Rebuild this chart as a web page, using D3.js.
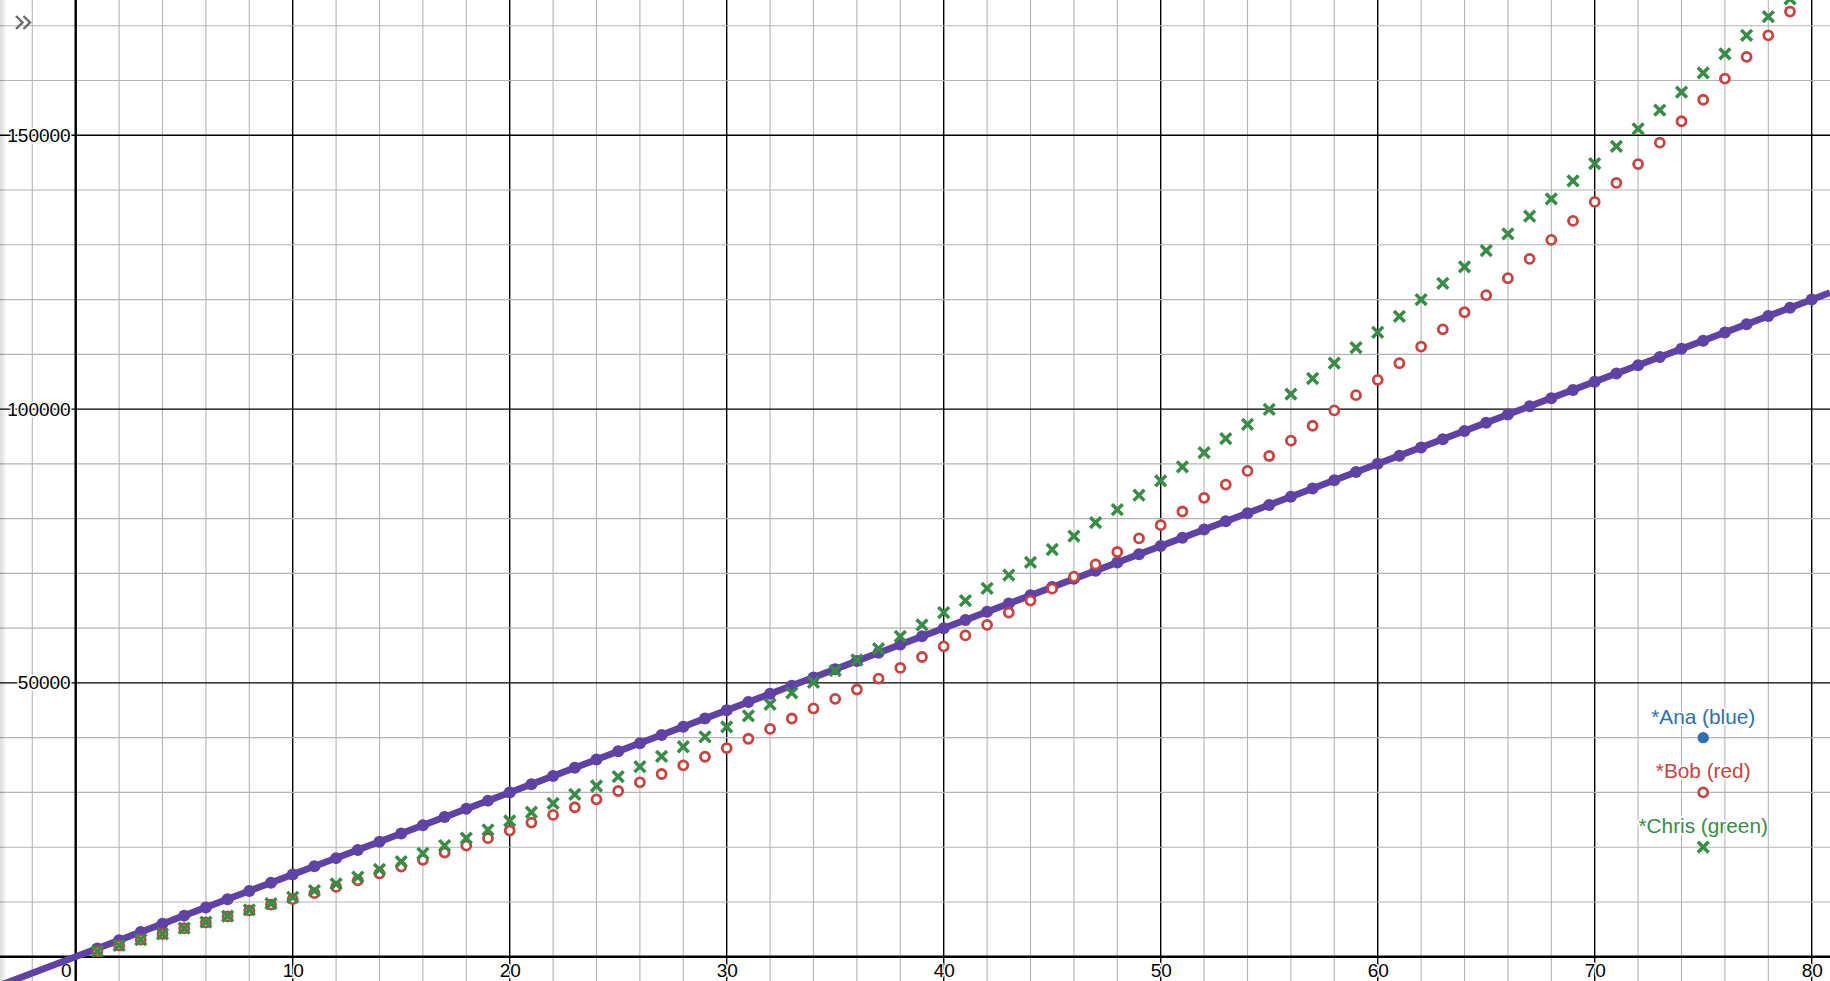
<!DOCTYPE html>
<html lang="en">
<head>
    <meta charset="utf-8">
    <title>Ana / Bob / Chris</title>
    <script type="text/javascript" src="https://cdn.jsdelivr.net/npm/d3@7/dist/d3.min.js"></script>
    <style>
        body { margin: 0; background: #fff; overflow: hidden; }
        svg { display: block; font-family: "Liberation Sans", Arial, sans-serif; }
    </style>
</head>
<body>
<script type="text/javascript">
    // values (n = 1, 2, 3 ...)
    var days = d3.range(1, 81);
    var ana = [
        1500, 3000, 4500, 6000, 7500, 9000, 10500, 12000, 13500, 15000,
        16500, 18000, 19500, 21000, 22500, 24000, 25500, 27000, 28500, 30000,
        31500, 33000, 34500, 36000, 37500, 39000, 40500, 42000, 43500, 45000,
        46500, 48000, 49500, 51000, 52500, 54000, 55500, 57000, 58500, 60000,
        61500, 63000, 64500, 66000, 67500, 69000, 70500, 72000, 73500, 75000,
        76500, 78000, 79500, 81000, 82500, 84000, 85500, 87000, 88500, 90000,
        91500, 93000, 94500, 96000, 97500, 99000, 100500, 102000, 103500, 105000,
        106500, 108000, 109500, 111000, 112500, 114000, 115500, 117000, 118500, 120000
    ];
    var bob = [
        1000, 2050, 3100, 4150, 5200, 6250, 7350, 8450, 9500, 10500,
        11600, 12750, 13950, 15200, 16450, 17700, 19030, 20300, 21640, 23040,
        24490, 25890, 27290, 28740, 30260, 31850, 33360, 34950, 36510, 38090,
        39800, 41600, 43500, 45330, 47090, 48790, 50790, 52730, 54730, 56670,
        58670, 60610, 62850, 65030, 67210, 69390, 71640, 73900, 76380, 78810,
        81300, 83790, 86220, 88710, 91440, 94230, 96960, 99760, 102550, 105340,
        108380, 111410, 114570, 117690, 120800, 123900, 127430, 130900, 134370, 137830,
        141300, 144750, 148660, 152570, 156490, 160350, 164330, 168250, 172600
    ];
    var chris = [
        1000, 2050, 3100, 4150, 5200, 6300, 7400, 8550, 9700, 10850,
        12050, 13300, 14550, 15950, 17350, 18850, 20300, 21640, 23160, 24800,
        26380, 28010, 29650, 31170, 32870, 34690, 36580, 38340, 40160, 41980,
        43980, 46100, 48180, 50120, 52240, 54180, 56240, 58480, 60610, 62850,
        65030, 67270, 69700, 72000, 74360, 76790, 79270, 81650, 84270, 86890,
        89440, 92050, 94600, 97210, 99940, 102730, 105590, 108380, 111230, 114030,
        116940, 119980, 122950, 125980, 128950, 131990, 135220, 138380, 141670, 144830,
        147990, 151190, 154590, 157900, 161390, 164880, 168250, 171680, 174900
    ];
    var legendNames = ["*Ana (blue)", "*Bob (red)", "*Chris (green)"];
    var legendX = 75;
    var legendY = [40000, 30000, 20000];
    var xTicks = [0, 10, 20, 30, 40, 50, 60, 70, 80];
    var yTicks = [50000, 100000, 150000];

    var w = 1830;
    var h = 981;
    var blue = "#2d70b3", red = "#c74440", green = "#388c46", purple = "#6042a6";

    var x = d3.scaleLinear().domain([-3.488, 80.843]).range([0, w]);
    var y = d3.scaleLinear().domain([-4438, 174708]).range([h, 0]);

    var svg = d3.select("body")
            .append("svg")
            .attr("width", w)
            .attr("height", h);

    svg.append("rect").attr("width", w).attr("height", h).attr("fill", "#fff");

    // grid: minor then major
    var grid = svg.append("g");
    grid.selectAll("line.vx")
            .data(d3.range(-2, 82, 2))
            .enter()
            .append("line")
            .attr("x1", function (d) { return x(d); })
            .attr("x2", function (d) { return x(d); })
            .attr("y1", 0)
            .attr("y2", h)
            .attr("stroke", function (d) { return d % 10 === 0 ? "#000" : "#b4b4b4"; })
            .attr("stroke-width", function (d) { return d % 10 === 0 ? 1.4 : 1.1; });
    grid.selectAll("line.hy")
            .data(d3.range(0, 180000, 10000))
            .enter()
            .append("line")
            .attr("y1", function (d) { return y(d); })
            .attr("y2", function (d) { return y(d); })
            .attr("x1", 0)
            .attr("x2", w)
            .attr("stroke", function (d) { return d % 50000 === 0 ? "#000" : "#b4b4b4"; })
            .attr("stroke-width", function (d) { return d % 50000 === 0 ? 1.4 : 1.1; });

    // axes lines
    svg.append("line")
            .attr("x1", x(0)).attr("x2", x(0))
            .attr("y1", 0).attr("y2", h)
            .attr("stroke", "#000").attr("stroke-width", 2.4);
    svg.append("line")
            .attr("y1", y(0)).attr("y2", y(0))
            .attr("x1", 0).attr("x2", w)
            .attr("stroke", "#000").attr("stroke-width", 2.4);

    // tick labels with d3 axes
    var xAxis = svg.append("g")
            .attr("transform", "translate(0," + y(0) + ")")
            .call(d3.axisBottom(x).tickValues(xTicks).tickSize(0).tickPadding(7));
    var yAxis = svg.append("g")
            .attr("transform", "translate(" + x(0) + ",0)")
            .call(d3.axisLeft(y).tickValues(yTicks).tickSize(0).tickPadding(5).tickFormat(d3.format("d")));
    [xAxis, yAxis].forEach(function (g) {
        g.select(".domain").remove();
        g.selectAll("text")
                .attr("font-family", "\"Liberation Sans\", Arial, sans-serif")
                .attr("font-size", "19px")
                .attr("fill", "#000")
                .attr("stroke", "#fff")
                .attr("stroke-width", 3)
                .attr("paint-order", "stroke")
                .attr("stroke-linejoin", "round");
    });
    xAxis.selectAll(".tick")
            .filter(function (d) { return d === 0; })
            .select("text")
            .attr("dx", -10);

    // Ana: line y = rate * n, plus the points
    var rate = ana[ana.length - 1] / days[ana.length - 1];
    var dom = x.domain();
    svg.append("path")
            .datum([dom[0], dom[1]])
            .attr("d", d3.line()
                    .x(function (d) { return x(d); })
                    .y(function (d) { return y(d * rate); }))
            .attr("fill", "none")
            .attr("stroke", purple)
            .attr("stroke-width", 6.8);
    svg.append("g").selectAll("circle")
            .data(ana)
            .enter()
            .append("circle")
            .attr("cx", function (d, i) { return x(days[i]); })
            .attr("cy", function (d) { return y(d); })
            .attr("r", 6)
            .attr("fill", purple);

    // Bob: open circles
    svg.append("g").selectAll("circle")
            .data(bob)
            .enter()
            .append("circle")
            .attr("cx", function (d, i) { return x(days[i]); })
            .attr("cy", function (d) { return y(d); })
            .attr("r", 4.5)
            .attr("fill", "#fff")
            .attr("stroke", red)
            .attr("stroke-width", 2.8);

    // Chris: crosses
    var cross = "M-5.4,-5.4L5.4,5.4M-5.4,5.4L5.4,-5.4";
    svg.append("g").selectAll("path")
            .data(chris)
            .enter()
            .append("path")
            .attr("transform", function (d, i) { return "translate(" + x(days[i]) + "," + y(d) + ")"; })
            .attr("d", cross)
            .attr("stroke", green)
            .attr("stroke-width", 3.5)
            .attr("fill", "none");

    // legend points with labels
    var legendColors = [blue, red, green];
    var leg = svg.append("g");
    leg.append("circle")
            .attr("cx", x(legendX)).attr("cy", y(legendY[0]))
            .attr("r", 5.7).attr("fill", blue);
    leg.append("circle")
            .attr("cx", x(legendX)).attr("cy", y(legendY[1]))
            .attr("r", 4.5).attr("fill", "#fff")
            .attr("stroke", red).attr("stroke-width", 2.8);
    leg.append("path")
            .attr("transform", "translate(" + x(legendX) + "," + y(legendY[2]) + ")")
            .attr("d", cross)
            .attr("stroke", green).attr("stroke-width", 3.5).attr("fill", "none");
    leg.selectAll("text")
            .data(legendNames)
            .enter()
            .append("text")
            .text(function (d) { return d; })
            .attr("x", x(legendX))
            .attr("y", function (d, i) { return y(legendY[i]) - 14; })
            .attr("text-anchor", "middle")
            .attr("font-size", "20.8px")
            .attr("fill", function (d, i) { return legendColors[i]; })
            .attr("stroke", "#fff")
            .attr("stroke-width", 3)
            .attr("paint-order", "stroke");

    // left edge shadow and the expand button
    var grad = svg.append("defs").append("linearGradient").attr("id", "edge");
    grad.append("stop").attr("offset", 0).attr("stop-color", "#000").attr("stop-opacity", 0.14);
    grad.append("stop").attr("offset", 1).attr("stop-color", "#000").attr("stop-opacity", 0);
    svg.append("rect").attr("width", 7).attr("height", h).attr("fill", "url(#edge)");
    svg.append("path")
            .attr("d", "M16,16L22.5,22.5L16,29M23.5,16L30,22.5L23.5,29")
            .attr("fill", "none")
            .attr("stroke", "#6b6b6b")
            .attr("stroke-width", 2.4);
</script>
</body>
</html>
